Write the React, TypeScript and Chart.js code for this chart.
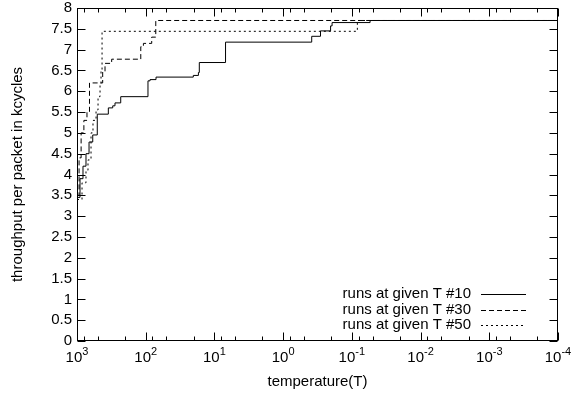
import React, { useEffect, useRef } from 'react';
import { Chart, registerables } from 'chart.js';

Chart.register(...registerables);

// ---- data (temperature T, throughput value); each point = where the step changes ----
const runs10Temps = [1000, 904, 818, 740, 668, 590, 507, 350, 302, 280, 231, 92.7, 86.5, 70.8, 20.3, 17.1, 16.6, 6.89, 0.384, 0.286, 0.204, 0.194, 0.0543, 0.0001];
const runs10Values = [3.45, 3.9, 4.2, 4.5, 4.78, 4.95, 5.45, 5.6, 5.65, 5.72, 5.87, 6.25, 6.28, 6.34, 6.38, 6.45, 6.69, 7.18, 7.32, 7.45, 7.57, 7.65, 7.7, 7.7];

const runs30Temps = [1000, 933, 871, 794, 716, 658, 423, 391, 313, 118, 108, 81.8, 71.4, 0.0001];
const runs30Values = [3.5, 4.4, 5.0, 5.3, 5.5, 6.2, 6.47, 6.67, 6.77, 7.07, 7.15, 7.3, 7.7, 7.7];

const runs50Temps = [1000, 845, 740, 692, 625, 585, 528, 494, 462, 447, 432, 0.0832, 0.0001];
const runs50Values = [3.4, 3.8, 4.1, 4.35, 5.0, 5.3, 5.55, 5.87, 6.19, 6.5, 7.44, 7.7, 7.7];

const seriesLabels = ['runs at given T #10', 'runs at given T #30', 'runs at given T #50'];
const seriesDashes: number[][] = [[], [5, 3], [2, 3]];

const xTickValues = [1000, 100, 10, 1, 0.1, 0.01, 0.001, 0.0001];
const xTickBase = '10';
const xTickExponents = ['3', '2', '1', '0', '-1', '-2', '-3', '-4'];
const yTickValues = [0, 0.5, 1, 1.5, 2, 2.5, 3, 3.5, 4, 4.5, 5, 5.5, 6, 6.5, 7, 7.5, 8];
const yTickLabels = ['0', '0.5', '1', '1.5', '2', '2.5', '3', '3.5', '4', '4.5', '5', '5.5', '6', '6.5', '7', '7.5', '8'];
const minorMultiples = [2, 5, 8];

const xTitle = 'temperature(T)';
const yTitle = 'throughput per packet in kcycles';

const FONT_FAMILY = '"Liberation Sans", Arial, Helvetica, sans-serif';
const FONT_SIZE = 15;
const EXP_SIZE = 11;

const toPoints = (ts: number[], vs: number[]) => ts.map((t, i) => ({ x: t, y: vs[i] }));

const decorPlugin = {
  id: 'gnuplotDecor',
  afterDatasetsDraw(chart: any) {
    const { ctx, chartArea: a, scales } = chart;
    const xs = scales.x;
    const ys = scales.y;
    ctx.save();
    ctx.strokeStyle = '#000';
    ctx.lineWidth = 1;
    ctx.setLineDash([]);
    ctx.beginPath();
    const L = Math.round(a.left) + 0.5;
    const R = Math.round(a.right) - 0.5;
    const T = Math.round(a.top) + 0.5;
    const B = Math.round(a.bottom) - 0.5;
    const major = 8;
    const minor = 4;
    for (const v of yTickValues) {
      const py = Math.round(ys.getPixelForValue(v)) + 0.5;
      ctx.moveTo(L, py); ctx.lineTo(L + major, py);
      ctx.moveTo(R, py); ctx.lineTo(R - major, py);
    }
    for (const v of xTickValues) {
      const px = Math.round(xs.getPixelForValue(v)) + 0.5;
      ctx.moveTo(px, B); ctx.lineTo(px, B - major);
      ctx.moveTo(px, T); ctx.lineTo(px, T + major);
    }
    for (let i = 1; i < xTickValues.length; i++) {
      const d = xTickValues[i];
      for (const k of minorMultiples) {
        const px = Math.round(xs.getPixelForValue(k * d)) + 0.5;
        ctx.moveTo(px, B); ctx.lineTo(px, B - minor);
        ctx.moveTo(px, T); ctx.lineTo(px, T + minor);
      }
    }
    ctx.stroke();
    ctx.strokeRect(L, T, R - L, B - T);

    // x tick labels: "10" with raised exponent
    ctx.fillStyle = '#000';
    ctx.textBaseline = 'alphabetic';
    ctx.textAlign = 'left';
    xTickValues.forEach((v, i) => {
      const px = xs.getPixelForValue(v);
      ctx.font = `${FONT_SIZE}px ${FONT_FAMILY}`;
      const wb = ctx.measureText(xTickBase).width;
      ctx.font = `${EXP_SIZE}px ${FONT_FAMILY}`;
      const we = ctx.measureText(xTickExponents[i]).width;
      const x0 = px - (wb + we) / 2;
      ctx.font = `${FONT_SIZE}px ${FONT_FAMILY}`;
      ctx.fillText(xTickBase, x0, a.bottom + 21);
      ctx.font = `${EXP_SIZE}px ${FONT_FAMILY}`;
      ctx.fillText(xTickExponents[i], x0 + wb, a.bottom + 14);
    });

    // gnuplot-style key: text right-aligned, line sample on the right
    ctx.font = `${FONT_SIZE}px ${FONT_FAMILY}`;
    ctx.textAlign = 'right';
    ctx.textBaseline = 'middle';
    const rows = [294, 309.5, 325];
    seriesLabels.forEach((lab, i) => {
      const y = rows[i];
      ctx.fillText(lab, 471, y);
      ctx.beginPath();
      ctx.setLineDash(seriesDashes[i]);
      ctx.moveTo(481, Math.round(y) + 0.5);
      ctx.lineTo(526, Math.round(y) + 0.5);
      ctx.stroke();
    });
    ctx.restore();
  },
};

export default function App() {
  const ref = useRef<HTMLCanvasElement>(null);
  useEffect(() => {
    if (!ref.current) return;
    const font = { family: FONT_FAMILY, size: FONT_SIZE };
    const chart = new Chart(ref.current, {
      type: 'line',
      data: {
        datasets: [
          { label: seriesLabels[0], data: toPoints(runs10Temps, runs10Values) },
          { label: seriesLabels[1], data: toPoints(runs30Temps, runs30Values) },
          { label: seriesLabels[2], data: toPoints(runs50Temps, runs50Values) },
        ].map((d, i) => ({
          ...d,
          stepped: true,
          borderColor: '#000',
          borderWidth: 1,
          borderDash: seriesDashes[i],
          pointRadius: 0,
          fill: false,
          tension: 0,
        })),
      },
      options: {
        responsive: false,
        animation: false,
        events: [],
        layout: { padding: { left: 0, right: 15, top: 8, bottom: 0 } },
        plugins: { legend: { display: false }, tooltip: { enabled: false } },
        scales: {
          x: {
            type: 'logarithmic',
            reverse: true,
            min: 0.0001,
            max: 1000,
            afterBuildTicks: (s: any) => { s.ticks = xTickValues.map((v) => ({ value: v })); },
            ticks: { display: false, autoSkip: false, maxRotation: 0 },
            grid: { display: false, drawTicks: false },
            border: { display: false },
            title: { display: true, text: xTitle, font, color: '#000', padding: { top: 4, bottom: 6 } },
            afterFit: (s: any) => { s.height = 56; s.paddingLeft = 0; s.paddingRight = 0; },
          },
          y: {
            type: 'linear',
            min: 0,
            max: 8,
            afterBuildTicks: (s: any) => { s.ticks = yTickValues.map((v) => ({ value: v })); },
            ticks: {
              callback: (_v: any, i: number) => yTickLabels[i],
              font,
              color: '#000',
              autoSkip: false,
              padding: 5,
            },
            grid: { display: false, drawTicks: false },
            border: { display: false },
            title: { display: true, text: yTitle, font, color: '#000', padding: { top: 9, bottom: 4 } },
            afterFit: (s: any) => { s.width = 77; s.paddingTop = 0; s.paddingBottom = 0; },
          },
        },
      },
      plugins: [decorPlugin],
    } as any);
    return () => chart.destroy();
  }, []);
  return (
    <div style={{ position: 'absolute', left: 0, top: 0, width: 573, height: 397, background: '#fff' }}>
      <canvas ref={ref} width={573} height={397} style={{ display: 'block' }} />
    </div>
  );
}
